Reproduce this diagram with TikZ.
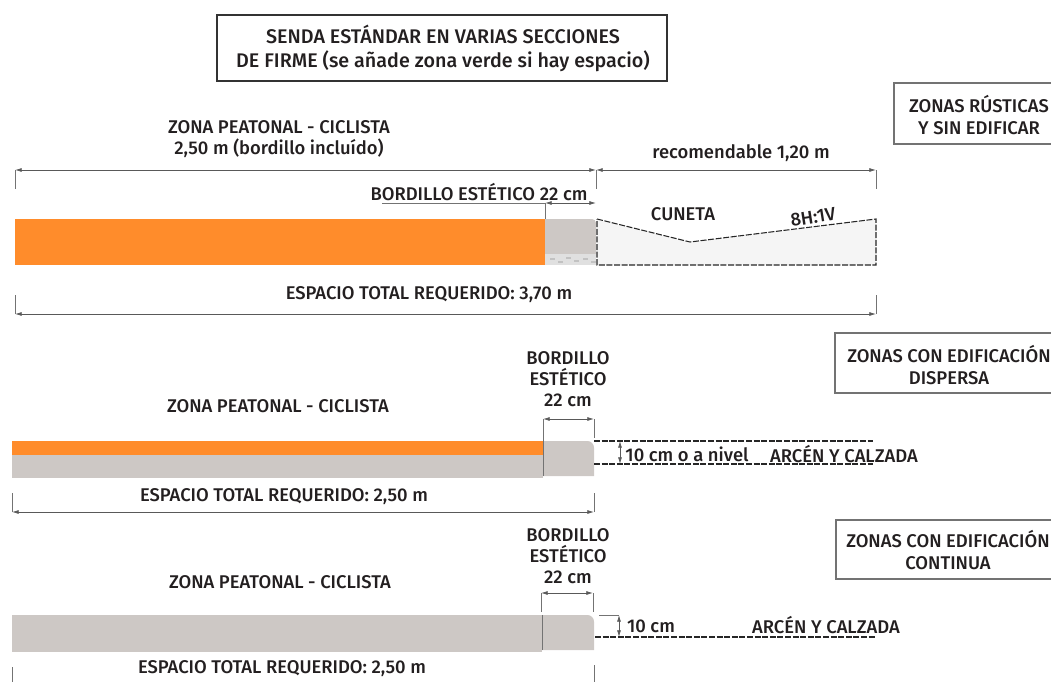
\documentclass[tikz,border=0pt]{standalone}
\usepackage{fontspec}
\setmainfont[UprightFont=* Medium,BoldFont=* SemiBold]{Fira Sans}
\usetikzlibrary{backgrounds,arrows.meta}
\pgfdeclarelayer{edgelayer}
\pgfdeclarelayer{nodelayer}
\pgfsetlayers{edgelayer,nodelayer,main}
\definecolor{naranja}{RGB}{255,140,43}
\definecolor{bordillo}{RGB}{205,200,197}
\definecolor{cuneta}{RGB}{245,245,245}
\definecolor{rotulo}{RGB}{35,31,32}
\tikzset{font=\fontsize{13.8pt}{15.8pt}\selectfont}
\tikzstyle{none}=[inner sep=0pt,minimum size=0pt]
\tikzstyle{rotulo}=[inner sep=0pt,text=rotulo,align=center]
\tikzstyle{titulo}=[rotulo,font=\fontsize{14.8pt}{18pt}\selectfont]
\tikzstyle{caja}=[draw=black!55,line width=0.8pt]
\tikzstyle{cota}=[draw=black!65,line width=0.6pt,{Latex[length=5pt,width=3pt]}-{Latex[length=5pt,width=3pt]}]
\tikzstyle{guia}=[draw=black!55,line width=0.6pt]
\tikzstyle{trazo}=[draw=black!85,line width=0.8pt,dash pattern=on 4.5pt off 1.2pt]

\begin{document}
\begin{tikzpicture}[x=0.75pt,y=-0.75pt]
	\useasboundingbox (0,0) rectangle (1051,682);
	\begin{pgfonlayer}{nodelayer}
		% rotulos
		\node [style=titulo] (0) at (443, 48) {SENDA ESTÁNDAR EN VARIAS SECCIONES\\DE FIRME (se añade zona verde si hay espacio)};
		\node [style=rotulo] (1) at (979, 115) {ZONAS RÚSTICAS\\Y SIN EDIFICAR};
		\node [style=rotulo] (2) at (279, 139) {ZONA PEATONAL - CICLISTA\\2,50 m (bordillo incluído)};
		\node [style=rotulo] (3) at (741, 153) {recomendable 1,20 m};
		\node [style=rotulo] (4) at (479, 192) {BORDILLO ESTÉTICO 22 cm};
		\node [style=rotulo] (5) at (683, 214) {CUNETA};
		\node [style=rotulo,rotate=9] (6) at (813, 217) {8H:1V};
		\node [style=rotulo] (7) at (429, 295) {ESPACIO TOTAL REQUERIDO: 3,70 m};
		\node [style=rotulo] (8) at (949, 365) {ZONAS CON EDIFICACIÓN\\DISPERSA};
		\node [style=rotulo] (9) at (568, 379) {BORDILLO\\ESTÉTICO\\22 cm};
		\node [style=rotulo] (10) at (278, 406) {ZONA PEATONAL - CICLISTA};
		\node [style=rotulo] (11) at (687, 454) {10 cm o a nivel};
		\node [style=rotulo] (12) at (844, 454) {ARCÉN Y CALZADA};
		\node [style=rotulo] (13) at (284, 497) {ESPACIO TOTAL REQUERIDO: 2,50 m};
		\node [style=rotulo] (14) at (948, 550) {ZONAS CON EDIFICACIÓN\\CONTINUA};
		\node [style=rotulo] (15) at (568, 556) {BORDILLO\\ESTÉTICO\\22 cm};
		\node [style=rotulo] (16) at (280, 582) {ZONA PEATONAL - CICLISTA};
		\node [style=rotulo] (17) at (651, 626) {10 cm};
		\node [style=rotulo] (18) at (826, 625) {ARCÉN Y CALZADA};
		\node [style=rotulo] (19) at (282, 669) {ESPACIO TOTAL REQUERIDO: 2,50 m};
		% cotas, seccion 1
		\node [style=none] (20) at (15, 170) {};
		\node [style=none] (21) at (596, 170) {};
		\node [style=none] (22) at (876, 170) {};
		\node [style=none] (23) at (15, 189) {};
		\node [style=none] (24) at (596, 189) {};
		\node [style=none] (25) at (876, 189) {};
		\node [style=none] (26) at (382, 203) {};
		\node [style=none] (27) at (545, 203) {};
		\node [style=none] (28) at (596, 203) {};
		\node [style=none] (29) at (545, 219) {};
		\node [style=none] (30) at (15, 314) {};
		\node [style=none] (31) at (876, 314) {};
		\node [style=none] (32) at (15, 295) {};
		\node [style=none] (33) at (876, 295) {};
		% cotas, seccion 2
		\node [style=none] (34) at (543, 419) {};
		\node [style=none] (35) at (594, 419) {};
		\node [style=none] (36) at (543, 441) {};
		\node [style=none] (37) at (594, 438) {};
		\node [style=none] (38) at (594, 441) {};
		\node [style=none] (39) at (873, 441) {};
		\node [style=none] (40) at (594, 464) {};
		\node [style=none] (41) at (873, 464) {};
		\node [style=none] (42) at (620, 441) {};
		\node [style=none] (43) at (620, 464) {};
		\node [style=none] (44) at (12, 512) {};
		\node [style=none] (45) at (594, 512) {};
		\node [style=none] (46) at (12, 493) {};
		\node [style=none] (47) at (594, 493) {};
		% cotas, seccion 3
		\node [style=none] (48) at (541, 593) {};
		\node [style=none] (49) at (593, 593) {};
		\node [style=none] (50) at (541, 612) {};
		\node [style=none] (51) at (593, 612) {};
		\node [style=none] (52) at (599, 615) {};
		\node [style=none] (53) at (619, 615) {};
		\node [style=none] (54) at (595, 637) {};
		\node [style=none] (55) at (875, 637) {};
		\node [style=none] (56) at (619, 637) {};
		\node [style=none] (57) at (12, 667) {};
		\node [style=none] (58) at (12, 682) {};
		\node [style=none] (59) at (594, 665) {};
		\node [style=none] (60) at (594, 682) {};
	\end{pgfonlayer}
	\begin{pgfonlayer}{edgelayer}
		% cajas
		\draw [style=caja,draw=black!80] (217, 15) rectangle (667, 81);
		\draw [style=caja] (1060, 83) -- (894, 83) -- (894, 144) -- (1060, 144);
		\draw [style=caja] (1060, 333) -- (835, 333) -- (835, 393) -- (1060, 393);
		\draw [style=caja] (1060, 520) -- (836, 520) -- (836, 579) -- (1060, 579);
		% seccion 1
		\fill [naranja] (15, 219) rectangle (545, 265);
		\fill [bordillo] (545, 254) -- (545, 219) [rounded corners=3pt] -- (596, 219) [sharp corners] -- (596, 254) -- cycle;
		\fill [black!12] (545, 254) rectangle (596, 265);
		\foreach \manchax/\manchay in {550/258, 558/261, 566/257, 574/260, 583/258, 591/261}
			\fill [black!24] (\manchax, \manchay) rectangle ++(5, 2);
		\draw [style=trazo,fill=cuneta] (597, 219) -- (690, 242) -- (876, 219) -- (876, 265) -- (597, 265) -- cycle;
		\draw [style=cota] (20.center) to (21.center);
		\draw [style=cota] (21.center) to (22.center);
		\draw [style=guia] (20.center) to (23.center);
		\draw [style=guia] (21.center) to (24.center);
		\draw [style=guia] (22.center) to (25.center);
		\draw [style=guia] (26.center) to (27.center);
		\draw [style=cota] (27.center) to (28.center);
		\draw [style=guia] (27.center) to (29.center);
		\draw [style=cota] (30.center) to (31.center);
		\draw [style=guia] (30.center) to (32.center);
		\draw [style=guia] (31.center) to (33.center);
		% seccion 2
		\fill [bordillo] (12, 441) rectangle (543, 478);
		\fill [naranja] (12, 441) rectangle (543, 455);
		\fill [bordillo] (543, 476) -- (543, 441) [rounded corners=5pt] -- (594, 441) [sharp corners] -- (594, 476) -- cycle;
		\draw [style=guia] (36.center) to (543, 476);
		\draw [style=cota] (34.center) to (35.center);
		\draw [style=guia] (34.center) to (36.center);
		\draw [style=guia] (35.center) to (37.center);
		\draw [style=trazo] (38.center) to (39.center);
		\draw [style=trazo] (40.center) to (41.center);
		\draw [style=cota] (42.center) to (43.center);
		\draw [style=cota] (44.center) to (45.center);
		\draw [style=guia] (44.center) to (46.center);
		\draw [style=guia] (45.center) to (47.center);
		% seccion 3
		\fill [bordillo] (12, 615) rectangle (542, 652);
		\fill [bordillo] (542, 650) -- (542, 615) [rounded corners=5pt] -- (594, 615) [sharp corners] -- (594, 650) -- cycle;
		\draw [style=guia] (542, 615) -- (542, 650);
		\draw [style=cota] (48.center) to (49.center);
		\draw [style=guia] (48.center) to (50.center);
		\draw [style=guia] (49.center) to (51.center);
		\draw [style=guia] (52.center) to (53.center);
		\draw [style=trazo] (54.center) to (55.center);
		\draw [style=cota] (53.center) to (56.center);
		\draw [style=guia] (57.center) to (58.center);
		\draw [style=guia] (59.center) to (60.center);
	\end{pgfonlayer}
\end{tikzpicture}
\end{document}
